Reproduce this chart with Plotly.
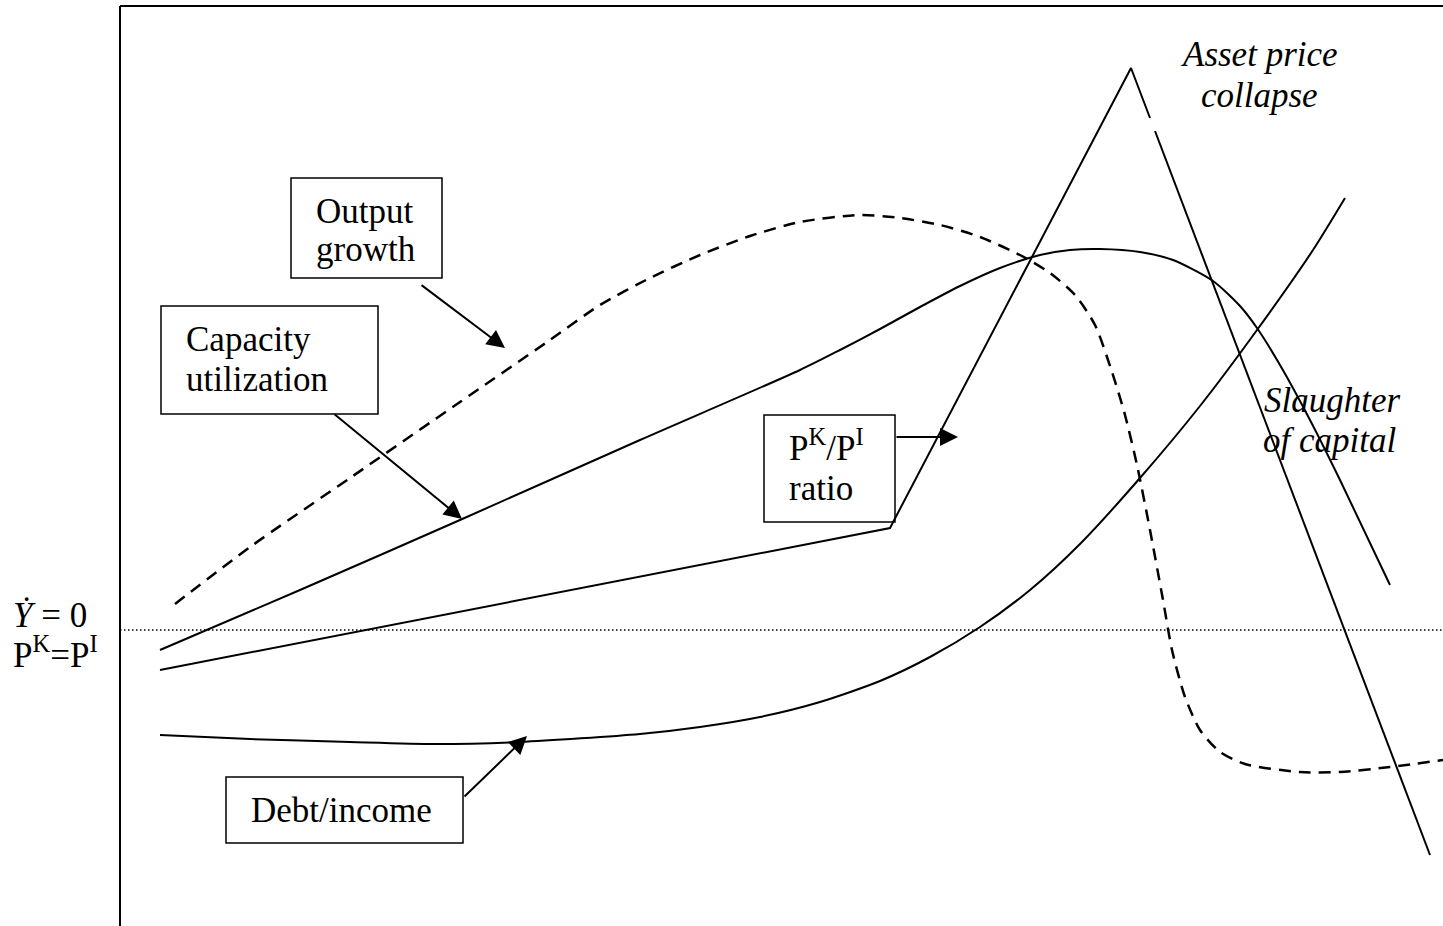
import plotly.graph_objects as go

# ---- data (in picture units) ----
growth_x = [175, 250, 350, 460, 550, 600, 650, 700, 750, 800, 860, 900, 940, 980, 1020, 1050, 1075, 1095, 1112, 1125, 1137, 1150, 1163, 1172, 1185, 1200, 1220, 1245, 1300, 1340, 1390, 1443]
growth_y = [604, 547, 478, 402, 340, 305, 278, 255, 236, 222, 215, 218, 225, 237, 255, 273, 295, 325, 372, 415, 465, 530, 600, 650, 697, 730, 752, 764, 772, 772, 767, 760]

cap_x = [160, 300, 460, 640, 800, 840, 880, 920, 960, 1000, 1040, 1070, 1100, 1140, 1173, 1213, 1240, 1257, 1280, 1310, 1340, 1390]
cap_y = [650, 590, 520, 440, 370, 350, 329, 307, 286, 268, 255, 250, 249, 252, 260, 281, 306, 328, 365, 420, 480, 585]

ratio_x_a = [160, 890, 1131, 1150]
ratio_y_a = [670, 528, 68, 118]
ratio_x_b = [1155, 1430]
ratio_y_b = [131, 855]

debt_x = [160, 250, 350, 435, 520, 640, 700, 760, 820, 880, 930, 980, 1030, 1080, 1140, 1200, 1257, 1313, 1345]
debt_y = [735, 739, 742, 744, 742, 734, 727, 717, 702, 681, 657, 627, 590, 544, 478, 406, 330, 250, 198]

zero_level = 630

# text labels: (text, left x, baseline y)
labels = [
    ("Output", 315, 224),
    ("growth", 315, 262),
    ("Capacity", 185, 352),
    ("utilization", 185, 392),
    ("P<sup>K</sup>/P<sup>I</sup>", 788, 461),
    ("ratio", 788, 501),
    ("Debt/income", 250, 823),
    ("<i>Asset price</i>", 1180, 67),
    ("<i>collapse</i>", 1200, 108),
    ("<i>Slaughter</i>", 1263, 413),
    ("<i>of capital</i>", 1262, 453),
    ("<i>\u1E8E</i> = 0", 12, 628),
    ("P<sup>K</sup>=P<sup>I</sup>", 12, 668),
]

# boxes: (x0, y0, x1, y1)
boxes = [
    (291, 178, 442, 278),
    (161, 306, 378, 414),
    (764, 415, 895, 522),
    (226, 777, 463, 843),
]

# arrows: (start x, start y, tip x, tip y)
arrows = [
    (420, 284, 505, 348),
    (333, 413, 462, 519),
    (895, 437, 958, 437),
    (463, 798, 527, 736),
]

W, H = 1443, 926
FONT = "Liberation Serif, Times New Roman, serif"

fig = go.Figure()

line_style = dict(color="black", width=2)
fig.add_trace(go.Scatter(x=growth_x, y=growth_y, mode="lines",
                         line=dict(color="black", width=2.5, dash="12px,8px", shape="spline", smoothing=0.7)))
fig.add_trace(go.Scatter(x=cap_x, y=cap_y, mode="lines",
                         line=dict(color="black", width=2, shape="spline", smoothing=0.7)))
fig.add_trace(go.Scatter(x=ratio_x_a, y=ratio_y_a, mode="lines", line=line_style))
fig.add_trace(go.Scatter(x=ratio_x_b, y=ratio_y_b, mode="lines", line=line_style))
fig.add_trace(go.Scatter(x=debt_x, y=debt_y, mode="lines",
                         line=dict(color="black", width=2, shape="spline", smoothing=0.7)))

shapes = []
# frame
shapes.append(dict(type="line", x0=120, x1=120, y0=6, y1=H, xref="x", yref="y",
                   line=dict(color="black", width=2)))
shapes.append(dict(type="line", x0=120, x1=W, y0=6, y1=6, xref="x", yref="y",
                   line=dict(color="black", width=2)))
# zero level dotted
shapes.append(dict(type="line", x0=120, x1=W, y0=zero_level, y1=zero_level, xref="x", yref="y",
                   line=dict(color="black", width=1.5, dash="1.5px,2.5px")))
for (x0, y0, x1, y1) in boxes:
    shapes.append(dict(type="rect", x0=x0, x1=x1, y0=y0, y1=y1, xref="x", yref="y",
                       line=dict(color="black", width=1.5)))

annotations = []
for (t, x, yb) in labels:
    annotations.append(dict(text=t, x=x, y=yb + 8, xref="x", yref="y",
                            xanchor="left", yanchor="bottom", showarrow=False,
                            borderpad=0,
                            font=dict(family=FONT, size=35, color="black")))
for (sx, sy, tx, ty) in arrows:
    annotations.append(dict(text="", x=tx, y=ty, ax=sx, ay=sy, xref="x", yref="y",
                            axref="x", ayref="y", showarrow=True, arrowhead=2,
                            arrowsize=1.8, arrowwidth=2, arrowcolor="black",
                            standoff=0, startstandoff=0))

fig.update_layout(
    width=W, height=H,
    margin=dict(l=0, r=0, t=0, b=0),
    paper_bgcolor="white", plot_bgcolor="white",
    showlegend=False,
    xaxis=dict(range=[0, W], visible=False, fixedrange=True),
    yaxis=dict(range=[H, 0], visible=False, fixedrange=True),
    shapes=shapes, annotations=annotations,
)

fig.write_html("out.html", config={"displayModeBar": False},
               post_script="document.body.style.margin='0';document.body.style.overflow='hidden';")
